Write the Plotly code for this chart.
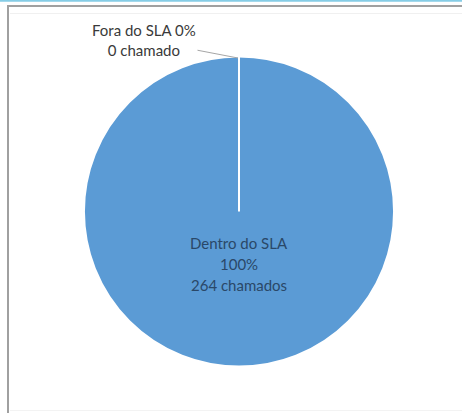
import plotly.graph_objects as go

# SLA compliance of tickets
categories = ["Fora do SLA", "Dentro do SLA"]
tickets = [0, 264]
units = ["chamado", "chamados"]

total = sum(tickets)
pcts = [round(100 * v / total) for v in tickets]

W, H = 462, 413
cx, cy, r = 239, 211.5, 155  # pie centre / radius in pixels

fig = go.Figure(
    go.Pie(
        labels=categories,
        values=tickets,
        sort=False,
        direction="clockwise",
        rotation=0,
        textinfo="none",
        hoverinfo="label+percent+value",
        marker=dict(colors=["#ED7D31", "#5B9BD5"], line=dict(color="white", width=2)),
        domain=dict(
            x=[(cx - r) / W, (cx + r) / W],
            y=[(H - cy - r) / H, (H - cy + r) / H],
        ),
        showlegend=False,
    )
)

def px(x):
    return x / W

def py(y):
    return 1 - y / H

# slice boundary at the start angle (12 o'clock): the empty slice collapses to a line
fig.add_shape(type="line", x0=px(cx), x1=px(cx), y0=py(cy), y1=py(cy - r - 1),
              line=dict(color="white", width=2))

font = dict(family="Lato, 'Open Sans', sans-serif", size=15, color="#3A3A3A")

# outside label for the empty slice, with leader line to the top of the pie
fig.add_annotation(
    x=px(cx - 1), y=py(cy - r + 1.5), xref="paper", yref="paper",
    text=f"{categories[0]} {pcts[0]}%<br>{tickets[0]} {units[0]}",
    showarrow=True, arrowhead=0, arrowwidth=1, arrowcolor="#A6A6A6",
    ax=-94, ay=-18, xanchor="center", yanchor="middle",
    font=font, align="center",
)

# inside label for the full slice
inner = [categories[1], f"{pcts[1]}%", f"{tickets[1]} {units[1]}"]
for i, line in enumerate(inner):
    fig.add_annotation(
        x=px(cx), y=py(243 + 21 * i), xref="paper", yref="paper",
        text=line, showarrow=False, xanchor="center", yanchor="middle",
        font=dict(family=font["family"], size=15, color="#2A4868"),
    )

# frame lines
shapes = [
    dict(type="line", x0=0, x1=1, y0=py(0.8), y1=py(0.8), line=dict(color="#86CDE6", width=2)),
    dict(type="line", x0=px(7), x1=1, y0=py(6), y1=py(6), line=dict(color="#A0A0A0", width=2)),
    dict(type="line", x0=px(8), x1=px(8), y0=0, y1=py(5), line=dict(color="#A0A0A0", width=2)),
    dict(type="line", x0=px(10), x1=1, y0=py(13.5), y1=py(13.5), line=dict(color="#F0F0F0", width=1)),
    dict(type="line", x0=px(10), x1=1, y0=py(410.5), y1=py(410.5), line=dict(color="#F3F3F3", width=1)),
]
for s in shapes:
    fig.add_shape(**s)

fig.update_layout(
    width=W, height=H,
    margin=dict(l=0, r=0, t=0, b=0),
    paper_bgcolor="white", plot_bgcolor="white",
)

fig.write_html("out.html")
